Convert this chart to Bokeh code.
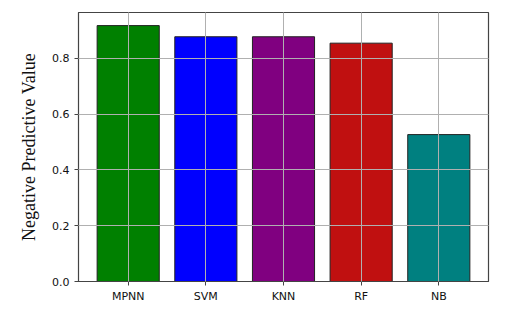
from bokeh.plotting import figure
from bokeh.models import FactorRange, Range1d, ColumnDataSource
from bokeh.embed import file_html
from bokeh.resources import INLINE

models = ["MPNN", "SVM", "KNN", "RF", "NB"]
npv = [0.918, 0.878, 0.878, 0.855, 0.527]
colors = ["#008000", "#0000ff", "#800080", "#c01010", "#008080"]

src = ColumnDataSource(dict(x=models, top=npv, color=colors))

p = figure(width=520, height=305, output_backend="svg", toolbar_location=None,
           x_range=FactorRange(factors=models, range_padding=0.056),
           y_range=Range1d(0, 0.965),
           min_border_left=78, min_border_right=32, min_border_top=12, min_border_bottom=20)

p.vbar(x="x", top="top", width=0.8, fill_color="color", line_color="#222222",
       line_width=1, source=src)

p.outline_line_color="#444444"
p.outline_line_width=1.2
for ax in (p.xaxis[0], p.yaxis[0]):
    ax.axis_line_color="#444444"
    ax.major_tick_line_color="#444444"
    ax.major_tick_out=4
    ax.major_tick_in=0
    ax.minor_tick_line_color=None
    ax.major_label_text_font="DejaVu Sans"
    ax.major_label_text_font_size="11px"
    ax.major_label_text_color="#111111"
p.yaxis.ticker=[0.0, 0.2, 0.4, 0.6, 0.8]
p.yaxis.major_label_overrides={0.0: "0.0", 0.2: "0.2", 0.4: "0.4", 0.6: "0.6", 0.8: "0.8"}
p.yaxis.axis_label="Negative Predictive Value"
p.yaxis.axis_label_text_font="Liberation Serif"
p.yaxis.axis_label_text_font_style="normal"
p.yaxis.axis_label_text_font_size="18px"
p.yaxis.axis_label_text_color="#111111"
p.yaxis.axis_label_standoff=10
p.xaxis.major_label_standoff=4

for g in (p.xgrid[0], p.ygrid[0]):
    g.grid_line_color="#b0b0b0"
    g.grid_line_width=1
    g.level="overlay"

open("out.html", "w").write(file_html(p, INLINE))
